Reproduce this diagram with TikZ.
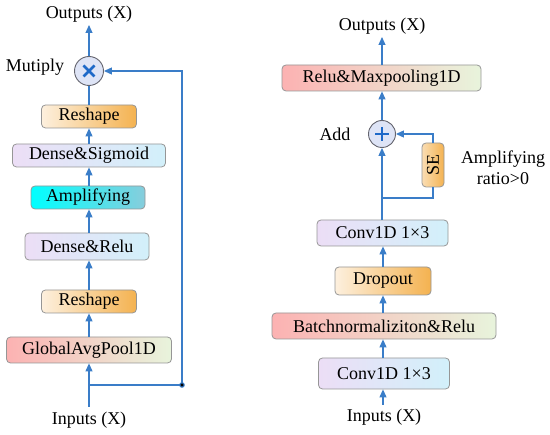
\documentclass[tikz,border=0pt]{standalone}
\usepackage{fontspec}
\setmainfont{Liberation Serif}
\usetikzlibrary{arrows.meta}
\definecolor{ln}{RGB}{58,125,200}
\definecolor{bd}{RGB}{150,150,150}
\definecolor{orL}{RGB}{253,240,222}
\definecolor{orR}{RGB}{244,178,80}
\definecolor{lvL}{RGB}{236,222,246}
\definecolor{lvR}{RGB}{210,240,250}
\definecolor{rdL}{RGB}{252,178,178}
\definecolor{rdR}{RGB}{232,244,220}
\definecolor{cyL}{RGB}{0,255,255}
\definecolor{cyR}{RGB}{135,205,220}
\definecolor{cf}{RGB}{222,228,246}
\definecolor{cb}{RGB}{100,100,110}
\definecolor{sym}{RGB}{30,105,200}
\begin{document}
\begin{tikzpicture}[x=1pt,y=-1pt,
  txt/.style={inner sep=0pt,font=\fontsize{18}{21}\selectfont},
  box/.style={txt,draw=bd,line width=0.8pt,rounded corners=4pt},
  orb/.style={box,left color=orL,right color=orR},
  lvb/.style={box,left color=lvL,right color=lvR},
  rdb/.style={box,left color=rdL,right color=rdR},
  cyb/.style={box,left color=cyL,right color=cyR},
  op/.style={circle,draw=cb,line width=0.9pt,fill=cf,inner sep=0pt},
  ln/.style={draw=ln,line width=1.1pt},
  ar/.style={ln,-{Triangle[length=8pt,width=7pt]}},
  symb/.style={draw=sym,line width=2.6pt}
]
\useasboundingbox (0,0) rectangle (550,435);
% ---------------- left column ----------------
\node[txt] (outL) at (89,14) {Outputs (X)};
\node[op,minimum size=29pt] (mul) at (89,71) {};
\draw[symb] ([shift={(-5.5,-5.5)}]mul.center) -- ([shift={(5.5,5.5)}]mul.center);
\draw[symb] ([shift={(-5.5,5.5)}]mul.center) -- ([shift={(5.5,-5.5)}]mul.center);
\node[txt] (mlab) at (35,67) {Mutiply};
\node[orb,minimum width=95pt,minimum height=23pt] (rs1) at (89,116.5) {Reshape};
\node[lvb,minimum width=153pt,minimum height=23pt] (ds) at (89,155.5) {Dense\&Sigmoid};
\node[cyb,minimum width=114pt,minimum height=23pt] (amp) at (88,197.5) {Amplifying};
\node[lvb,minimum width=124pt,minimum height=27pt] (dr) at (87,246.5) {Dense\&Relu};
\node[orb,minimum width=95pt,minimum height=23pt] (rs2) at (89,301.5) {Reshape};
\node[rdb,minimum width=165pt,minimum height=26pt] (gap) at (89,350) {GlobalAvgPool1D};
\node[txt] (inL) at (89,420) {Inputs (X)};
\coordinate (inLt) at (89,407);
\coordinate (jL) at (89,385);
\coordinate (jR) at (182,385);
\coordinate (tR) at (182,71);

\draw[ar] (inLt) -- (gap.south -| inLt);
\draw[ar] (gap.north -| inLt) -- (rs2.south -| inLt);
\draw[ar] (rs2.north -| inLt) -- (dr.south -| inLt);
\draw[ar] (dr.north -| inLt) -- (amp.south -| inLt);
\draw[ar] (amp.north -| inLt) -- (ds.south -| inLt);
\draw[ar] (ds.north -| inLt) -- (rs1.south -| inLt);
\draw[ln] (rs1.north -| inLt) -- (mul.south);
\draw[ar] (mul.north) -- (outL.south |- 0,25);
\draw[ar] (jL) -- (jR) -- (tR) -- (mul.east);
\fill[ln] (jR) circle (2.2pt);

% ---------------- right column ----------------
\node[txt] (outR) at (382,26) {Outputs (X)};
\node[rdb,minimum width=199pt,minimum height=26pt] (relu) at (381.5,78) {Relu\&Maxpooling1D};
\node[op,minimum size=27pt] (add) at (382,134) {};
\draw[symb] ([shift={(-7,0)}]add.center) -- ([shift={(7,0)}]add.center);
\draw[symb] ([shift={(0,-7)}]add.center) -- ([shift={(0,7)}]add.center);
\node[txt] (alab) at (335,134) {Add};
\node[box,rotate=90,left color=orL!70!orR,right color=orR,minimum width=44pt,minimum height=22pt] (se) at (433,165) {SE};
\node[txt,align=center] (ratio) at (503,168) {Amplifying\\ratio>0};
\node[lvb,minimum width=131pt,minimum height=26pt] (c1) at (382.5,233) {Conv1D 1×3};
\node[orb,minimum width=96pt,minimum height=28pt] (drop) at (383,281) {Dropout};
\node[rdb,minimum width=224pt,minimum height=26pt] (bn) at (384,326) {Batchnormaliziton\&Relu};
\node[lvb,minimum width=131pt,minimum height=31pt] (c2) at (384,373.5) {Conv1D 1×3};
\node[txt] (inR) at (384,417) {Inputs (X)};
\coordinate (inRt) at (383,405);
\coordinate (sj) at (382,198);
\coordinate (sjr) at (433,198);
\coordinate (stp) at (433,134);

\draw[ar] (inRt) -- (c2.south -| inRt);
\draw[ar] (c2.north -| inRt) -- (bn.south -| inRt);
\draw[ar] (bn.north -| inRt) -- (drop.south -| inRt);
\draw[ar] (drop.north -| inRt) -- (c1.south -| inRt);
\draw[ar] (c1.north -| add) -- (add.south);
\draw[ln] (sj) -- (sjr) -- (se.west);
\draw[ar] (se.east) -- (stp) -- (add.east);
\draw[ar] (add.north) -- (relu.south -| add);
\draw[ar] (relu.north -| add) -- (382,37);
\end{tikzpicture}
\end{document}
